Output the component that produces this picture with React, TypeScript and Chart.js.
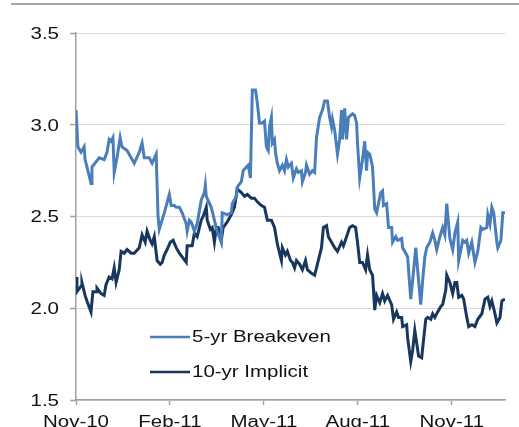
import React, { useEffect, useRef } from "react";
import { Chart, registerables } from "chart.js";

Chart.register(...registerables);

// x = months since start of Nov-2010
const tickLabels = ["Nov-10", "Feb-11", "May-11", "Aug-11", "Nov-11"];
const tickPositions = [0, 3, 6, 9, 12];

const breakevenX = [
  0, 0.06, 0.16, 0.26, 0.29, 0.35, 0.48, 0.51, 0.74, 0.9, 0.99, 1.06, 1.12, 1.18, 1.22, 1.31, 1.41, 1.47, 1.63, 1.86,
  2.02, 2.11, 2.18, 2.34, 2.43, 2.56, 2.62, 2.66, 2.82, 2.98, 3.04, 3.14, 3.2, 3.3, 3.39, 3.52, 3.55, 3.62, 3.68, 3.78,
  3.87, 4.0, 4.1, 4.13, 4.16, 4.32, 4.42, 4.51, 4.64, 4.67, 4.83, 4.96, 4.99, 5.12, 5.15, 5.28, 5.34, 5.44, 5.5, 5.57,
  5.63, 5.73, 5.79, 5.86, 5.95, 6.02, 6.08, 6.14, 6.18, 6.24, 6.27, 6.34, 6.37, 6.43, 6.5, 6.59, 6.66, 6.72, 6.78, 6.88,
  6.94, 7.04, 7.1, 7.2, 7.23, 7.33, 7.36, 7.46, 7.55, 7.62, 7.68, 7.78, 7.87, 7.94, 8.03, 8.1, 8.16, 8.19, 8.26, 8.35,
  8.42, 8.48, 8.51, 8.58, 8.64, 8.7, 8.83, 8.9, 8.96, 8.99, 9.06, 9.15, 9.22, 9.28, 9.31, 9.38, 9.47, 9.54, 9.6, 9.73,
  9.79, 9.82, 9.92, 9.98, 10.08, 10.11, 10.21, 10.27, 10.4, 10.43, 10.56, 10.59, 10.69, 10.75, 10.85, 10.91, 11.01, 11.07, 11.14, 11.2,
  11.3, 11.39, 11.46, 11.52, 11.62, 11.71, 11.78, 11.84, 11.94, 12.03, 12.1, 12.19, 12.22, 12.35, 12.42, 12.48, 12.54, 12.64, 12.74, 12.83,
  12.93, 12.99, 13.12, 13.15, 13.22, 13.28, 13.34, 13.44, 13.47, 13.57, 13.63, 13.7,
];
const breakevenY = [
  3.08, 2.88, 2.85, 2.88, 2.81, 2.77, 2.68, 2.77, 2.82, 2.81, 2.85, 2.92, 2.91, 2.93, 2.74, 2.82, 2.93, 2.88, 2.86, 2.79,
  2.85, 2.9, 2.82, 2.82, 2.79, 2.84, 2.5, 2.43, 2.52, 2.62, 2.56, 2.56, 2.55, 2.55, 2.52, 2.46, 2.42, 2.48, 2.47, 2.42,
  2.46, 2.59, 2.63, 2.67, 2.61, 2.55, 2.48, 2.42, 2.36, 2.52, 2.51, 2.52, 2.57, 2.61, 2.66, 2.69, 2.75, 2.77, 2.78, 2.71,
  3.19, 3.19, 3.12, 3.01, 3.01, 3.02, 2.88, 2.86, 2.99, 3.04, 2.9, 2.92, 2.85, 2.79, 2.75, 2.78, 2.75, 2.81, 2.77, 2.79,
  2.71, 2.76, 2.74, 2.75, 2.69, 2.74, 2.78, 2.73, 2.75, 2.74, 2.93, 3.04, 3.08, 3.13, 3.13, 3.04, 2.99, 3.03, 2.97, 2.84,
  2.92, 3.08, 2.92, 3.09, 2.92, 3.04, 3.06, 3.05, 3.01, 2.9, 2.71, 2.81, 2.91, 2.75, 2.85, 2.84, 2.77, 2.54, 2.52, 2.63,
  2.64, 2.56, 2.57, 2.44, 2.44, 2.36, 2.39, 2.37, 2.38, 2.33, 2.29, 2.28, 2.05, 2.15, 2.33, 2.21, 2.02, 2.15, 2.28, 2.33,
  2.36, 2.41, 2.37, 2.32, 2.39, 2.44, 2.4, 2.57, 2.38, 2.32, 2.41, 2.47, 2.26, 2.37, 2.36, 2.37, 2.3, 2.36, 2.25, 2.31,
  2.44, 2.43, 2.44, 2.51, 2.46, 2.55, 2.52, 2.36, 2.33, 2.37, 2.52, 2.52,
];

const implicitX = [
  0, 0.03, 0.16, 0.19, 0.29, 0.35, 0.48, 0.54, 0.64, 0.67, 0.8, 0.9, 0.96, 1.06, 1.15, 1.22, 1.28, 1.38, 1.44, 1.54,
  1.63, 1.76, 1.86, 2.02, 2.11, 2.21, 2.27, 2.37, 2.43, 2.5, 2.59, 2.69, 2.75, 2.82, 2.91, 3.01, 3.1, 3.2, 3.3, 3.39,
  3.52, 3.55, 3.71, 3.78, 3.87, 4.0, 4.06, 4.16, 4.19, 4.29, 4.35, 4.42, 4.48, 4.54, 4.64, 4.7, 4.83, 4.96, 5.06, 5.15,
  5.28, 5.38, 5.47, 5.6, 5.7, 5.79, 5.92, 6.02, 6.11, 6.24, 6.34, 6.43, 6.5, 6.56, 6.59, 6.69, 6.75, 6.85, 6.91, 6.98,
  7.04, 7.14, 7.23, 7.33, 7.39, 7.52, 7.62, 7.71, 7.84, 7.9, 8.0, 8.06, 8.16, 8.26, 8.35, 8.48, 8.54, 8.64, 8.74, 8.83,
  8.93, 8.99, 9.06, 9.15, 9.25, 9.31, 9.38, 9.47, 9.54, 9.6, 9.7, 9.79, 9.86, 9.95, 10.08, 10.14, 10.24, 10.3, 10.4, 10.43,
  10.56, 10.59, 10.69, 10.75, 10.82, 10.88, 10.94, 11.04, 11.1, 11.17, 11.23, 11.33, 11.39, 11.46, 11.55, 11.65, 11.71, 11.81, 11.84, 11.94,
  12.03, 12.1, 12.16, 12.22, 12.32, 12.38, 12.48, 12.54, 12.64, 12.74, 12.83, 12.96, 13.06, 13.15, 13.22, 13.28, 13.38, 13.44, 13.54, 13.6,
  13.7,
];
const implicitY = [
  2.17, 2.09, 2.12, 2.14, 2.07, 2.04, 1.98, 2.09, 2.09, 2.11, 2.08, 2.07, 2.13, 2.17, 2.16, 2.22, 2.14, 2.21, 2.31, 2.3,
  2.32, 2.3, 2.3, 2.33, 2.4, 2.36, 2.42, 2.37, 2.35, 2.39, 2.26, 2.24, 2.25, 2.29, 2.32, 2.36, 2.37, 2.33, 2.3, 2.28,
  2.25, 2.34, 2.34, 2.41, 2.39, 2.48, 2.5, 2.55, 2.48, 2.43, 2.44, 2.36, 2.44, 2.44, 2.37, 2.44, 2.47, 2.51, 2.55, 2.65,
  2.63, 2.61, 2.62, 2.6, 2.6, 2.58, 2.56, 2.55, 2.48, 2.48, 2.44, 2.35, 2.3, 2.26, 2.33, 2.29, 2.31, 2.26, 2.25, 2.22,
  2.26, 2.24, 2.21, 2.26, 2.21, 2.19, 2.18, 2.24, 2.33, 2.44, 2.45, 2.39, 2.36, 2.33, 2.31, 2.36, 2.34, 2.39, 2.44, 2.45,
  2.44, 2.36, 2.25, 2.25, 2.21, 2.29, 2.21, 2.18, 1.99, 2.07, 2.03, 2.08, 2.04, 2.07, 2.02, 1.94, 1.98, 1.95, 1.95, 1.9,
  1.91, 1.84, 1.71, 1.77, 1.88, 1.81, 1.74, 1.73, 1.83, 1.94, 1.95, 1.94, 1.97, 1.95, 1.98, 2.01, 2.02, 2.1, 2.18, 2.14,
  2.08, 2.14, 2.14, 2.06, 2.07, 2.05, 1.95, 1.9, 1.91, 1.9, 1.94, 1.97, 2.05, 2.06, 2.01, 2.04, 1.97, 1.92, 1.95, 2.04,
  2.05,
];

const seriesNames = ["5-yr Breakeven", "10-yr Implicit"];
const seriesColors = ["#4a7ebb", "#17375e"];

const FONT = "'Liberation Sans', Arial, sans-serif";
const STRETCH = 1.28;

function stretchedText(ctx: CanvasRenderingContext2D, text: string, x: number, y: number, align: CanvasTextAlign, baseline: CanvasTextBaseline) {
  ctx.save();
  ctx.translate(x, y);
  ctx.scale(STRETCH, 1);
  ctx.textAlign = align;
  ctx.textBaseline = baseline;
  ctx.fillText(text, 0, 0);
  ctx.restore();
}

// Draws tick labels (from the library's scales) with the reference's wide lettering, and the inside legend.
const labelsAndLegend = {
  id: "labelsAndLegend",
  afterDraw(chart: any) {
    const ctx = chart.ctx as CanvasRenderingContext2D;
    const area = chart.chartArea;
    const xs = chart.scales.x;
    const ys = chart.scales.y;
    ctx.save();
    ctx.fillStyle = "#111";
    ctx.font = "16px " + FONT;
    xs.ticks.forEach((t: any) => {
      const idx = tickPositions.indexOf(Number(t.value));
      if (idx < 0) return;
      stretchedText(ctx, tickLabels[idx], xs.getPixelForValue(t.value), area.bottom + 26.5, "center", "alphabetic");
    });
    ys.ticks.forEach((t: any) => {
      stretchedText(ctx, Number(t.value).toFixed(1), area.left - 17, ys.getPixelForValue(t.value) + 1.5, "right", "middle");
    });
    chart.data.datasets.forEach((ds: any, i: number) => {
      const x0 = area.left + 74;
      const y = area.bottom - 63 + i * 35;
      ctx.strokeStyle = ds.borderColor;
      ctx.lineWidth = 2.5;
      ctx.beginPath();
      ctx.moveTo(x0, y);
      ctx.lineTo(x0 + 40, y);
      ctx.stroke();
      stretchedText(ctx, ds.label, x0 + 42, y + 1, "left", "middle");
    });
    ctx.restore();
  },
};

export default function App() {
  const ref = useRef<HTMLCanvasElement>(null);
  useEffect(() => {
    if (!ref.current) return;
    const chart = new Chart(ref.current, {
      type: "line",
      data: {
        datasets: [
          {
            label: seriesNames[0],
            data: breakevenX.map((x, i) => ({ x, y: breakevenY[i] })),
            borderColor: seriesColors[0],
            borderWidth: 3,
            pointRadius: 0,
            tension: 0,
          },
          {
            label: seriesNames[1],
            data: implicitX.map((x, i) => ({ x, y: implicitY[i] })),
            borderColor: seriesColors[1],
            borderWidth: 3,
            pointRadius: 0,
            tension: 0,
          },
        ],
      },
      options: {
        animation: false,
        responsive: false,
        maintainAspectRatio: false,
        layout: { padding: { top: 33, right: 14, left: 0, bottom: 0 } },
        plugins: { legend: { display: false }, tooltip: { enabled: false } },
        scales: {
          x: {
            type: "linear",
            min: 0,
            max: 13.7,
            afterBuildTicks: (s: any) => {
              s.ticks = tickPositions.map((v) => ({ value: v }));
            },
            afterFit: (s: any) => {
              s.height = 27;
            },
            ticks: { display: false, autoSkip: false },
            grid: {
              drawOnChartArea: false,
              drawTicks: true,
              tickLength: 5,
              tickColor: "#a0a0a0",
              tickWidth: 1.5,
            },
            border: { color: "#a0a0a0", width: 1.5 },
          },
          y: {
            min: 1.5,
            max: 3.5,
            afterFit: (s: any) => {
              s.width = 76;
            },
            ticks: { display: false, stepSize: 0.5 },
            grid: {
              color: "#d9d9d9",
              lineWidth: 1,
              borderDash: [4, 3],
              tickLength: 6,
              tickColor: "#a0a0a0",
              tickWidth: 1.5,
              tickBorderDash: [],
            } as any,
            border: { color: "#a0a0a0", width: 1.5 },
          },
        },
      },
      plugins: [labelsAndLegend],
    } as any);
    return () => chart.destroy();
  }, []);
  return (
    <div style={{ position: "fixed", left: 0, top: 0, width: 519, height: 427, background: "#fff", overflow: "hidden" }}>
      <div style={{ position: "absolute", left: 11, right: 0, top: 3, height: 2, background: "#a6a6a6" }} />
      <canvas ref={ref} width={519} height={427} style={{ position: "absolute", left: 0, top: 0 }} />
    </div>
  );
}
